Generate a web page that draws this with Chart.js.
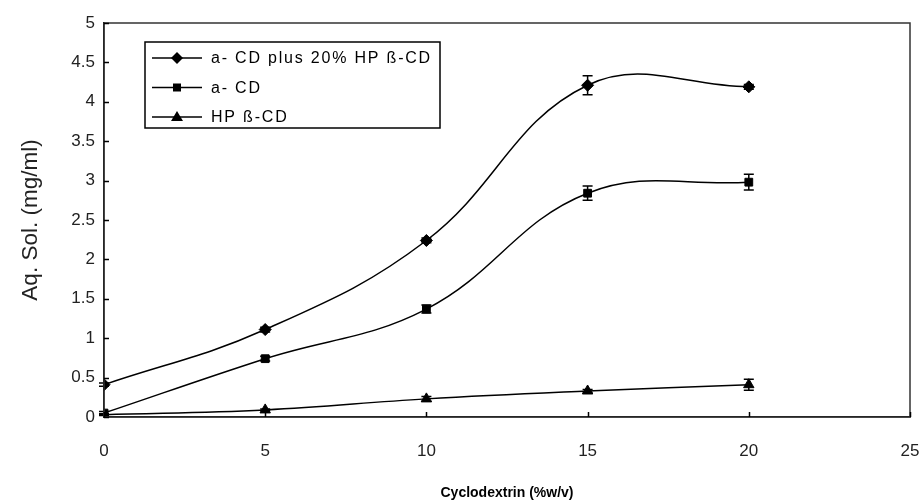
<!DOCTYPE html>
<html>
<head>
<meta charset="utf-8">
<script src="https://cdn.jsdelivr.net/npm/chart.js@4.4.0/dist/chart.umd.min.js"></script>
<style>
  html, body { margin: 0; padding: 0; background: #fff; }
  #wrap { width: 923px; height: 502px; position: relative; }
</style>
</head>
<body>
<div id="wrap"><canvas id="solChart"></canvas></div>
<script>
// --- Data ---
const cdConc = [0, 5, 10, 15, 20];
const comboSol = [0.41, 1.11, 2.24, 4.21, 4.19];
const comboErr = [0.02, 0.03, 0.03, 0.12, 0.03];
const alphaSol = [0.05, 0.74, 1.37, 2.84, 2.98];
const alphaErr = [0.02, 0.03, 0.05, 0.09, 0.1];
const hpSol = [0.03, 0.09, 0.23, 0.33, 0.41];
const hpErr = [0.01, 0.01, 0.03, 0.02, 0.07];
const seriesNames = ['a- CD plus 20% HP ß-CD', 'a- CD', 'HP ß-CD'];
const xTicks = [0, 5, 10, 15, 20, 25];
const yTicks = [0, 0.5, 1, 1.5, 2, 2.5, 3, 3.5, 4, 4.5, 5];

const FONT = '"Liberation Sans", Arial, sans-serif';

const toPoints = (ys) => ys.map((y, i) => ({ x: cdConc[i], y: y }));

const makeSet = (label, values, errs, style, radius) => ({
    label: label,
    data: toPoints(values),
    errors: errs,
    showLine: true,
    borderColor: '#000',
    backgroundColor: '#000',
    borderWidth: 1.5,
    tension: 0.4,
    pointStyle: style,
    pointRadius: radius,
    pointBorderWidth: 1,
    pointBorderColor: '#000',
    pointBackgroundColor: '#000'
});

// draw a simple marker for the legend
function drawMarker(ctx, style, x, y) {
    ctx.beginPath();
    if (style === 'rectRot') {
        ctx.moveTo(x, y - 6); ctx.lineTo(x + 6, y); ctx.lineTo(x, y + 6); ctx.lineTo(x - 6, y);
    } else if (style === 'rect') {
        ctx.rect(x - 4, y - 4, 8, 8);
    } else {
        ctx.moveTo(x, y - 6); ctx.lineTo(x + 6, y + 4); ctx.lineTo(x - 6, y + 4);
    }
    ctx.closePath();
    ctx.fill();
}

// box, inward ticks, error bars and the legend
const decorPlugin = {
    id: 'decor',
    afterDatasetsDraw(chart) {
        const ctx = chart.ctx;
        const xs = chart.scales.x, ys = chart.scales.y;
        ctx.save();
        ctx.strokeStyle = '#000';
        ctx.lineWidth = 1.5;

        // error bars
        chart.data.datasets.forEach((ds) => {
            ds.data.forEach((p, i) => {
                const e = ds.errors[i];
                const px = xs.getPixelForValue(p.x);
                const yTop = ys.getPixelForValue(p.y + e);
                const yBot = ys.getPixelForValue(p.y - e);
                ctx.beginPath();
                ctx.moveTo(px, yTop); ctx.lineTo(px, yBot);
                ctx.moveTo(px - 5, yTop); ctx.lineTo(px + 5, yTop);
                ctx.moveTo(px - 5, yBot); ctx.lineTo(px + 5, yBot);
                ctx.stroke();
            });
        });
        ctx.restore();
    },
    afterDraw(chart) {
        const ctx = chart.ctx;
        const a = chart.chartArea;
        const xs = chart.scales.x, ys = chart.scales.y;
        ctx.save();

        // plot frame
        ctx.strokeStyle = '#333';
        ctx.lineWidth = 1.5;
        ctx.strokeRect(a.left, a.top, a.right - a.left, a.bottom - a.top);

        // inward tick marks
        ctx.strokeStyle = '#000';
        ctx.beginPath();
        yTicks.forEach(v => {
            const py = Math.round(ys.getPixelForValue(v)) + 0.5;
            ctx.moveTo(a.left, py); ctx.lineTo(a.left + 5, py);
        });
        xTicks.forEach(v => {
            const px = Math.round(xs.getPixelForValue(v)) + 0.5;
            ctx.moveTo(px, a.bottom); ctx.lineTo(px, a.bottom - 5);
        });
        ctx.stroke();

        // legend box
        const lx = a.left + 41, ly = a.top + 19, lw = 295, lh = 86;
        ctx.fillStyle = '#fff';
        ctx.fillRect(lx, ly, lw, lh);
        ctx.strokeStyle = '#000';
        ctx.lineWidth = 1.5;
        ctx.strokeRect(lx, ly, lw, lh);
        const styles = ['rectRot', 'rect', 'triangle'];
        ctx.font = '16px ' + FONT;
        ctx.letterSpacing = '1.8px';
        ctx.textBaseline = 'middle';
        ctx.fillStyle = '#000';
        seriesNames.forEach((name, i) => {
            const ry = ly + 16 + i * 29.5;
            ctx.beginPath();
            ctx.moveTo(lx + 7, ry); ctx.lineTo(lx + 57, ry);
            ctx.stroke();
            drawMarker(ctx, styles[i], lx + 32, ry);
            ctx.fillText(name, lx + 66, ry + 1);
        });
        ctx.restore();
    }
};

const ctx = document.getElementById('solChart').getContext('2d');
new Chart(ctx, {
    type: 'scatter',
    data: {
        datasets: [
            makeSet(seriesNames[0], comboSol, comboErr, 'rectRot', 6),
            makeSet(seriesNames[1], alphaSol, alphaErr, 'rect', 5.5),
            makeSet(seriesNames[2], hpSol, hpErr, 'triangle', 6)
        ]
    },
    options: {
        responsive: true,
        maintainAspectRatio: false,
        animation: false,
        layout: { padding: { top: 23, right: 13, left: 0, bottom: 0 } },
        plugins: {
            legend: { display: false },
            tooltip: { enabled: false }
        },
        scales: {
            x: {
                type: 'linear',
                min: 0, max: 25,
                afterFit: (s) => { s.height = 85; s.paddingLeft = 0; s.paddingRight = 0; },
                afterBuildTicks: (s) => { s.ticks = xTicks.map(v => ({ value: v })); },
                grid: { display: false, drawTicks: false },
                border: { display: true, color: '#000', width: 1.5 },
                ticks: {
                    color: '#222', padding: 24, maxRotation: 0,
                    font: { family: FONT, size: 17 },
                    callback: (v) => String(v)
                },
                title: {
                    display: true,
                    text: 'Cyclodextrin (%w/v)',
                    color: '#000',
                    font: { family: FONT, size: 14, weight: 'bold' },
                    padding: { top: 0, bottom: 0 }
                }
            },
            y: {
                type: 'linear',
                min: 0, max: 5,
                afterFit: (s) => { s.width = 104; s.paddingTop = 0; s.paddingBottom = 0; },
                afterBuildTicks: (s) => { s.ticks = yTicks.map(v => ({ value: v })); },
                grid: { display: false, drawTicks: false },
                border: { display: true, color: '#000', width: 1.5 },
                ticks: {
                    color: '#222', padding: 9,
                    font: { family: FONT, size: 17 },
                    callback: (v) => String(v)
                },
                title: {
                    display: true,
                    text: 'Aq. Sol. (mg/ml)',
                    color: '#222',
                    font: { family: FONT, size: 22.5 },
                    padding: { top: 17, bottom: 0 }
                }
            }
        }
    },
    plugins: [decorPlugin]
});
</script>
</body>
</html>
